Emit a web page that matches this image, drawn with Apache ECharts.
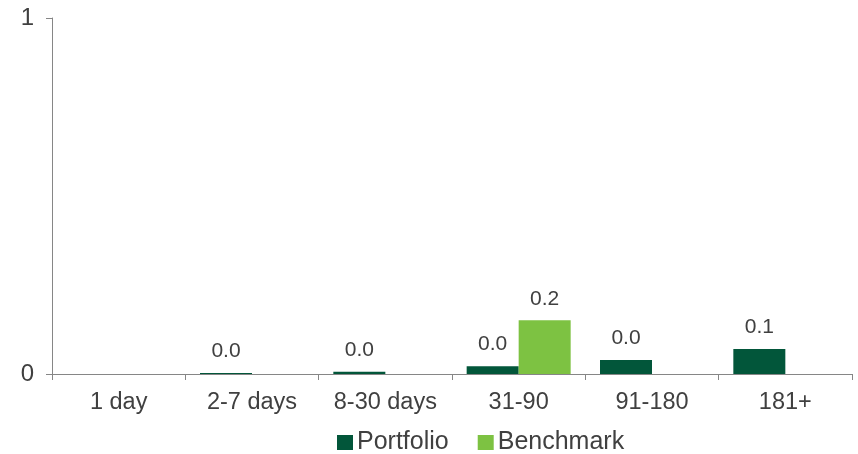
<!DOCTYPE html>
<html>
<head>
<meta charset="utf-8">
<script src="https://cdn.jsdelivr.net/npm/echarts@6/dist/echarts.min.js"></script>
<style>html,body{margin:0;padding:0;background:#fff}#c{width:858px;height:454px}</style>
</head>
<body>
<div id="c"></div>
<script>
const categories = ['1 day', '2-7 days', '8-30 days', '31-90', '91-180', '181+'];
const portfolio = [null, 0.003, 0.006, 0.022, 0.039, 0.07];
const benchmark = [null, null, null, 0.151, null, null];
const yTicks = [0, 1];

const chart = echarts.init(document.getElementById('c'));
const font = 'Liberation Sans, Arial, sans-serif';
const lbl = {
  show: true, position: 'top', distance: 11,
  fontFamily: font, fontSize: 21, color: '#404040',
  formatter: p => (p.value == null ? '' : Number(p.value).toFixed(1))
};
chart.setOption({
  animation: false,
  grid: { left: 52, right: 6, top: 18, bottom: 80, containLabel: false },
  legend: {
    left: 337, top: 430, padding: 0, itemWidth: 16, itemHeight: 15, itemGap: 29,
    icon: 'rect',
    textStyle: { fontFamily: font, fontSize: 25, color: '#404040', padding: [0, 0, 0, -1] },
    data: ['Portfolio', 'Benchmark']
  },
  xAxis: {
    type: 'category', data: categories,
    axisLine: { lineStyle: { color: '#868686', width: 1 } },
    axisTick: { show: true, length: 6, lineStyle: { color: '#868686' } },
    axisLabel: { interval: 0, fontFamily: font, fontSize: 23.5, color: '#404040', margin: 17 }
  },
  yAxis: {
    type: 'value', min: yTicks[0], max: yTicks[yTicks.length - 1], interval: 1,
    splitLine: { show: false },
    axisLine: { show: true, lineStyle: { color: '#868686', width: 1 } },
    axisTick: { show: true, length: 6, lineStyle: { color: '#868686' } },
    axisLabel: { fontFamily: font, fontSize: 24, color: '#404040', margin: 18 }
  },
  series: [
    { name: 'Portfolio', type: 'bar', data: portfolio, barGap: '0%', barCategoryGap: '22%',
      itemStyle: { color: '#02563A' }, label: lbl },
    { name: 'Benchmark', type: 'bar', data: benchmark, barGap: '0%', barCategoryGap: '22%',
      itemStyle: { color: '#7DC242' }, label: lbl }
  ]
});
</script>
</body>
</html>
